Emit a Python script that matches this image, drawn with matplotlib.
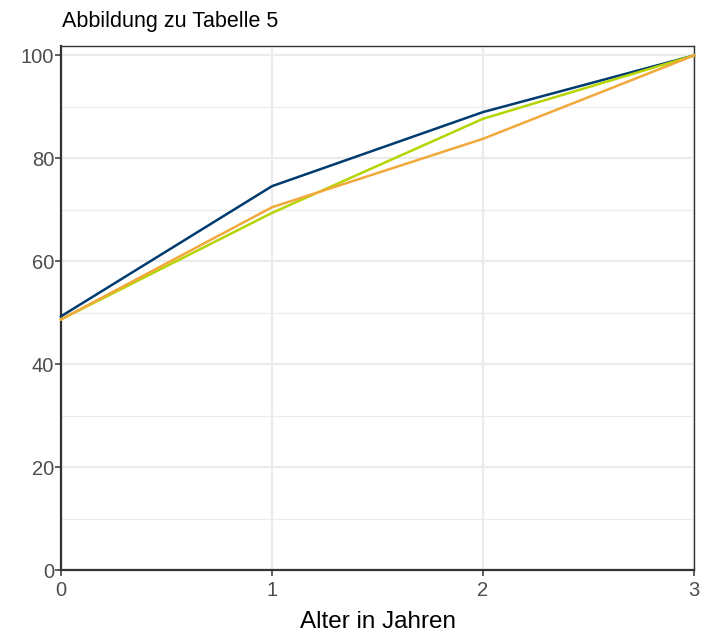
import matplotlib
matplotlib.use("Agg")
import matplotlib.pyplot as plt
from matplotlib.ticker import MultipleLocator

plt.rcParams['font.family'] = ['Liberation Sans', 'DejaVu Sans']

x_years = [0, 1, 2, 3]
series_navy = [49.3, 74.6, 89.0, 100.0]
series_green = [48.7, 69.4, 87.7, 100.0]
series_orange = [48.7, 70.5, 83.8, 100.0]
y_ticks = [0, 20, 40, 60, 80, 100]
x_ticks = [0, 1, 2, 3]

W, H = 703, 634
fig = plt.figure(figsize=(W/100, H/100), dpi=100)
left, right, bottom, top = 61, 694, 570, 45.7
ax = fig.add_axes([left/W, (H-bottom)/H, (right-left)/W, (bottom-top)/H])

ax.set_xlim(0, 3)
ax.set_ylim(0, 101.9)
ax.set_xticks(x_ticks)
ax.set_yticks(y_ticks)
ax.yaxis.set_minor_locator(MultipleLocator(10))
ax.grid(which='major', color='#ebebeb', lw=1.6, zorder=0)
ax.grid(which='minor', axis='y', color='#ebebeb', lw=0.9, zorder=0)
ax.tick_params(which='minor', length=0)
ax.tick_params(which='major', length=4, width=1.1, color='#333333', labelsize=14.5, labelcolor='#4d4d4d', pad=1)
ax.tick_params(axis='x', pad=4)
ax.set_axisbelow(True)

for s in ['top', 'right']:
    ax.spines[s].set_color('#333333')
    ax.spines[s].set_linewidth(1.0)
for s in ['left', 'bottom']:
    ax.spines[s].set_color('#333333')
    ax.spines[s].set_linewidth(1.6)

ax.plot(x_years, series_navy, color='#003b6f', lw=1.8, zorder=3, clip_on=False)
ax.plot(x_years, series_green, color='#b5d400', lw=1.8, zorder=3, clip_on=False)
ax.plot(x_years, series_orange, color='#f2a93b', lw=1.8, zorder=3, clip_on=False)

ax.set_xlabel('Alter in Jahren', fontsize=17.5, color='black', labelpad=8)
fig.text(62/W, 1-21/H, 'Abbildung zu Tabelle 5', fontsize=15.5, color='black', va='center', ha='left')

fig.savefig('out.png', dpi=100)
